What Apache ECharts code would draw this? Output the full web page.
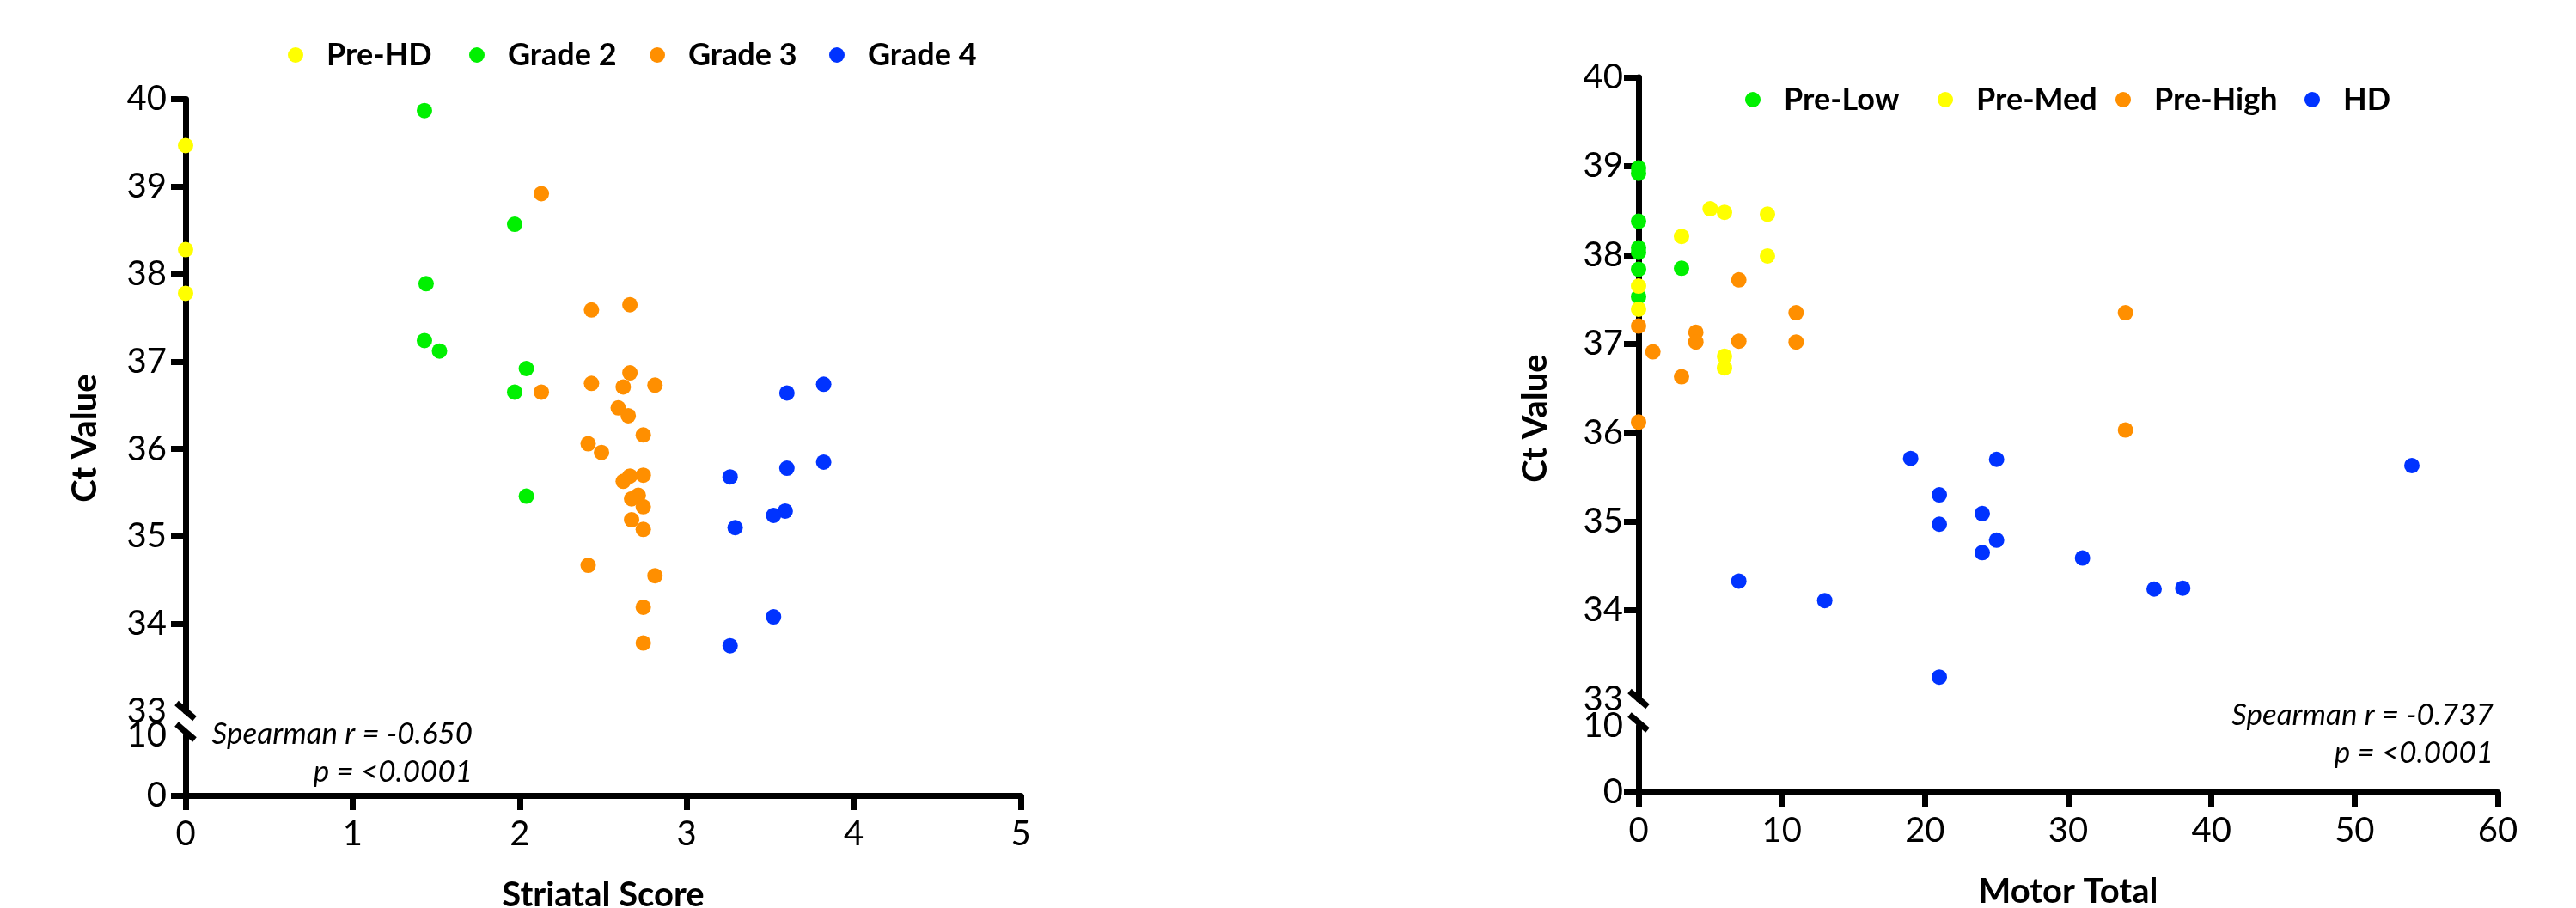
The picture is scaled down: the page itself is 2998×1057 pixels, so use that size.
<!DOCTYPE html>
<html>
<head>
<meta charset="utf-8">
<script src="https://cdn.jsdelivr.net/npm/echarts@6/dist/echarts.min.js"></script>
<style>
    html, body { margin: 0; padding: 0; background: #fff; }
    #main { width: 2998px; height: 1057px; }
</style>
</head>
<body>
<div id="main"></div>
<script>
// left panel: striatal score vs Ct value
var preHD = [[0, 39.47], [0, 38.28], [0, 37.78]]
var grade2 = [[1.43, 39.87], [1.97, 38.57], [1.44, 37.89], [1.43, 37.24], [1.52, 37.12], [2.04, 36.92], [1.97, 36.65], [2.04, 35.46]]
var grade3 = [[2.13, 38.92], [2.43, 37.59], [2.66, 37.65], [2.66, 36.87], [2.43, 36.75], [2.62, 36.71], [2.81, 36.73], [2.13, 36.65],
    [2.59, 36.47], [2.65, 36.38], [2.74, 36.16], [2.41, 36.06], [2.49, 35.96], [2.66, 35.69], [2.74, 35.70], [2.62, 35.63],
    [2.71, 35.47], [2.67, 35.43], [2.74, 35.34], [2.67, 35.19], [2.74, 35.08], [2.41, 34.67], [2.81, 34.55], [2.74, 34.19], [2.74, 33.78]]
var grade4 = [[3.82, 36.74], [3.60, 36.64], [3.82, 35.85], [3.60, 35.78], [3.26, 35.68], [3.59, 35.29], [3.52, 35.24], [3.29, 35.10], [3.52, 34.08], [3.26, 33.75]]

// right panel: motor total vs Ct value
var preLow = [[0, 38.98], [0, 38.92], [0, 38.38], [0, 38.08], [0, 38.03], [0, 37.84], [3, 37.85], [0, 37.53]]
var preMed = [[5, 38.52], [6, 38.48], [9, 38.46], [3, 38.21], [9, 37.99], [0, 37.65], [0, 37.39], [6, 36.86], [6, 36.73]]
var preHigh = [[7, 37.72], [11, 37.35], [34, 37.35], [0, 37.20], [4, 37.13], [4, 37.02], [7, 37.03], [11, 37.02], [1, 36.91], [3, 36.63], [0, 36.12], [34, 36.03]]
var hd = [[19, 35.71], [25, 35.70], [54, 35.63], [21, 35.30], [24, 35.09], [21, 34.97], [25, 34.79], [24, 34.65], [31, 34.59], [7, 34.33],
    [36, 34.24], [38, 34.25], [13, 34.11], [21, 33.25]]

var upperTicks = [33, 34, 35, 36, 37, 38, 39, 40]
var lowerTicks = [0, 10]
var leftXTicks = [0, 1, 2, 3, 4, 5]
var rightXTicks = [0, 10, 20, 30, 40, 50, 60]

var leftNames = ['Pre-HD', 'Grade 2', 'Grade 3', 'Grade 4']
var rightNames = ['Pre-Low', 'Pre-Med', 'Pre-High', 'HD']
var leftStats = ['Spearman r = -0.650', 'p = <0.0001']
var rightStats = ['Spearman r = -0.737', 'p = <0.0001']

var YELLOW = '#ffff00'
var GREEN = '#00f000'
var ORANGE = '#ff8f00'
var BLUE = '#0033ff'
var FONT = 'Lato'

var chart = echarts.init(document.getElementById('main'))

function yAxisOf(grid, min, max, interval, labels, ticks, margin) {
    return {
        gridIndex: grid,
        type: 'value',
        min: min,
        max: max,
        interval: interval,
        axisLine: { show: true, onZero: false, lineStyle: { color: '#000', width: 7 } },
        axisTick: { show: true, length: 17, customValues: ticks, lineStyle: { color: '#000', width: 7 } },
        axisLabel: { customValues: labels, margin: margin, color: '#000', fontSize: 40, fontFamily: FONT },
        splitLine: { show: false }
    }
}

function xAxisOf(grid, max, interval, labels, name) {
    if (!labels) {
        return { gridIndex: grid, type: 'value', min: 0, max: max, show: false }
    }
    return {
        gridIndex: grid,
        type: 'value',
        min: 0,
        max: max,
        interval: interval,
        name: name,
        nameLocation: 'middle',
        nameGap: 96,
        nameTextStyle: { color: '#000', fontSize: 40, fontWeight: 'bold', fontFamily: FONT },
        axisLine: { show: true, onZero: false, lineStyle: { color: '#000', width: 7 } },
        axisTick: { show: true, length: 17, customValues: labels, lineStyle: { color: '#000', width: 7 } },
        axisLabel: { customValues: labels, margin: 25, color: '#000', fontSize: 40, fontFamily: FONT },
        splitLine: { show: false }
    }
}

function dots(name, data, color, axisIndex) {
    return {
        name: name,
        type: 'scatter',
        xAxisIndex: axisIndex,
        yAxisIndex: axisIndex,
        data: data,
        symbol: 'circle',
        symbolSize: 18,
        clip: false,
        itemStyle: { color: color, opacity: 1 },
        emphasis: { disabled: true }
    }
}

function legendItem(name, left, top) {
    return {
        data: [name],
        left: left,
        top: top,
        icon: 'circle',
        itemWidth: 18,
        itemHeight: 18,
        selectedMode: false,
        textStyle: { color: '#000', fontSize: 36, fontWeight: 'bold', fontFamily: FONT, lineHeight: 40, padding: [0, 0, 0, 22] }
    }
}

function statText(lines, right, cy) {
    return {
        type: 'text',
        x: right,
        y: cy,
        style: {
            text: lines.join('\n'),
            font: 'italic 35px Lato',
            lineHeight: 44,
            fill: '#000',
            textAlign: 'right',
            align: 'right',
            textVerticalAlign: 'middle',
            verticalAlign: 'middle'
        }
    }
}

function sideName(text, x, y) {
    return {
        type: 'text',
        x: x,
        y: y,
        rotation: Math.PI / 2,
        style: {
            text: text,
            font: 'bold 40px Lato',
            fill: '#000',
            textAlign: 'center',
            align: 'center',
            textVerticalAlign: 'middle',
            verticalAlign: 'middle'
        }
    }
}

var option = {
    backgroundColor: '#fff',
    animation: false,
    textStyle: { fontFamily: FONT },
    grid: [
        { left: 216, top: 115.5, width: 972, height: 712.5, outerBoundsMode: 'none' },
        { left: 216, top: 856, width: 972, height: 70, outerBoundsMode: 'none' },
        { left: 1907, top: 90, width: 1000, height: 724, outerBoundsMode: 'none' },
        { left: 1907, top: 845, width: 1000, height: 77, outerBoundsMode: 'none' }
    ],
    xAxis: [
        xAxisOf(0, 5, 1, null),
        xAxisOf(1, 5, 1, leftXTicks, 'Striatal Score'),
        xAxisOf(2, 60, 10, null),
        xAxisOf(3, 60, 10, rightXTicks, 'Motor Total')
    ],
    yAxis: [
        yAxisOf(0, 33, 40, 1, upperTicks, upperTicks.slice(1), 22),
        yAxisOf(1, 0, 10, 10, lowerTicks, [0], 22),
        yAxisOf(2, 33, 40, 1, upperTicks, upperTicks.slice(1), 18),
        yAxisOf(3, 0, 10, 10, lowerTicks, [0], 18)
    ],
    legend: [
        legendItem(leftNames[0], 330, 39),
        legendItem(leftNames[1], 541, 39),
        legendItem(leftNames[2], 751, 39),
        legendItem(leftNames[3], 960, 39),
        legendItem(rightNames[0], 2026, 91),
        legendItem(rightNames[1], 2250, 91),
        legendItem(rightNames[2], 2457, 91),
        legendItem(rightNames[3], 2677, 91)
    ],
    series: [
        dots(leftNames[0], preHD, YELLOW, 0),
        dots(leftNames[1], grade2, GREEN, 0),
        dots(leftNames[2], grade3, ORANGE, 0),
        dots(leftNames[3], grade4, BLUE, 0),
        dots(rightNames[0], preLow, GREEN, 2),
        dots(rightNames[1], preMed, YELLOW, 2),
        dots(rightNames[2], preHigh, ORANGE, 2),
        dots(rightNames[3], hd, BLUE, 2)
    ]
}

chart.setOption(option)

// axis break marks, placed where the two y segments end
function slash(p, dy) {
    return {
        type: 'line',
        shape: { x1: p[0] - 10.5, y1: p[1] + dy - 9.5, x2: p[0] + 10.5, y2: p[1] + dy + 8.5 },
        style: { stroke: '#000', lineWidth: 7 },
        z: 100
    }
}

var graphics = [
    sideName('Ct Value', 99, 510),
    sideName('Ct Value', 1787, 487),
    statText(leftStats, 550, 877),
    statText(rightStats, 2902, 855)
]
var panels = [[0, 1], [2, 3]]
panels.forEach(function(p) {
    var top = chart.convertToPixel({ xAxisIndex: p[0], yAxisIndex: p[0] }, [0, 33])
    var bottom = chart.convertToPixel({ xAxisIndex: p[1], yAxisIndex: p[1] }, [0, 10])
    graphics.push(slash(top, 0))
    graphics.push(slash(bottom, -3.5))
})

chart.setOption({ graphic: graphics })
</script>
</body>
</html>
